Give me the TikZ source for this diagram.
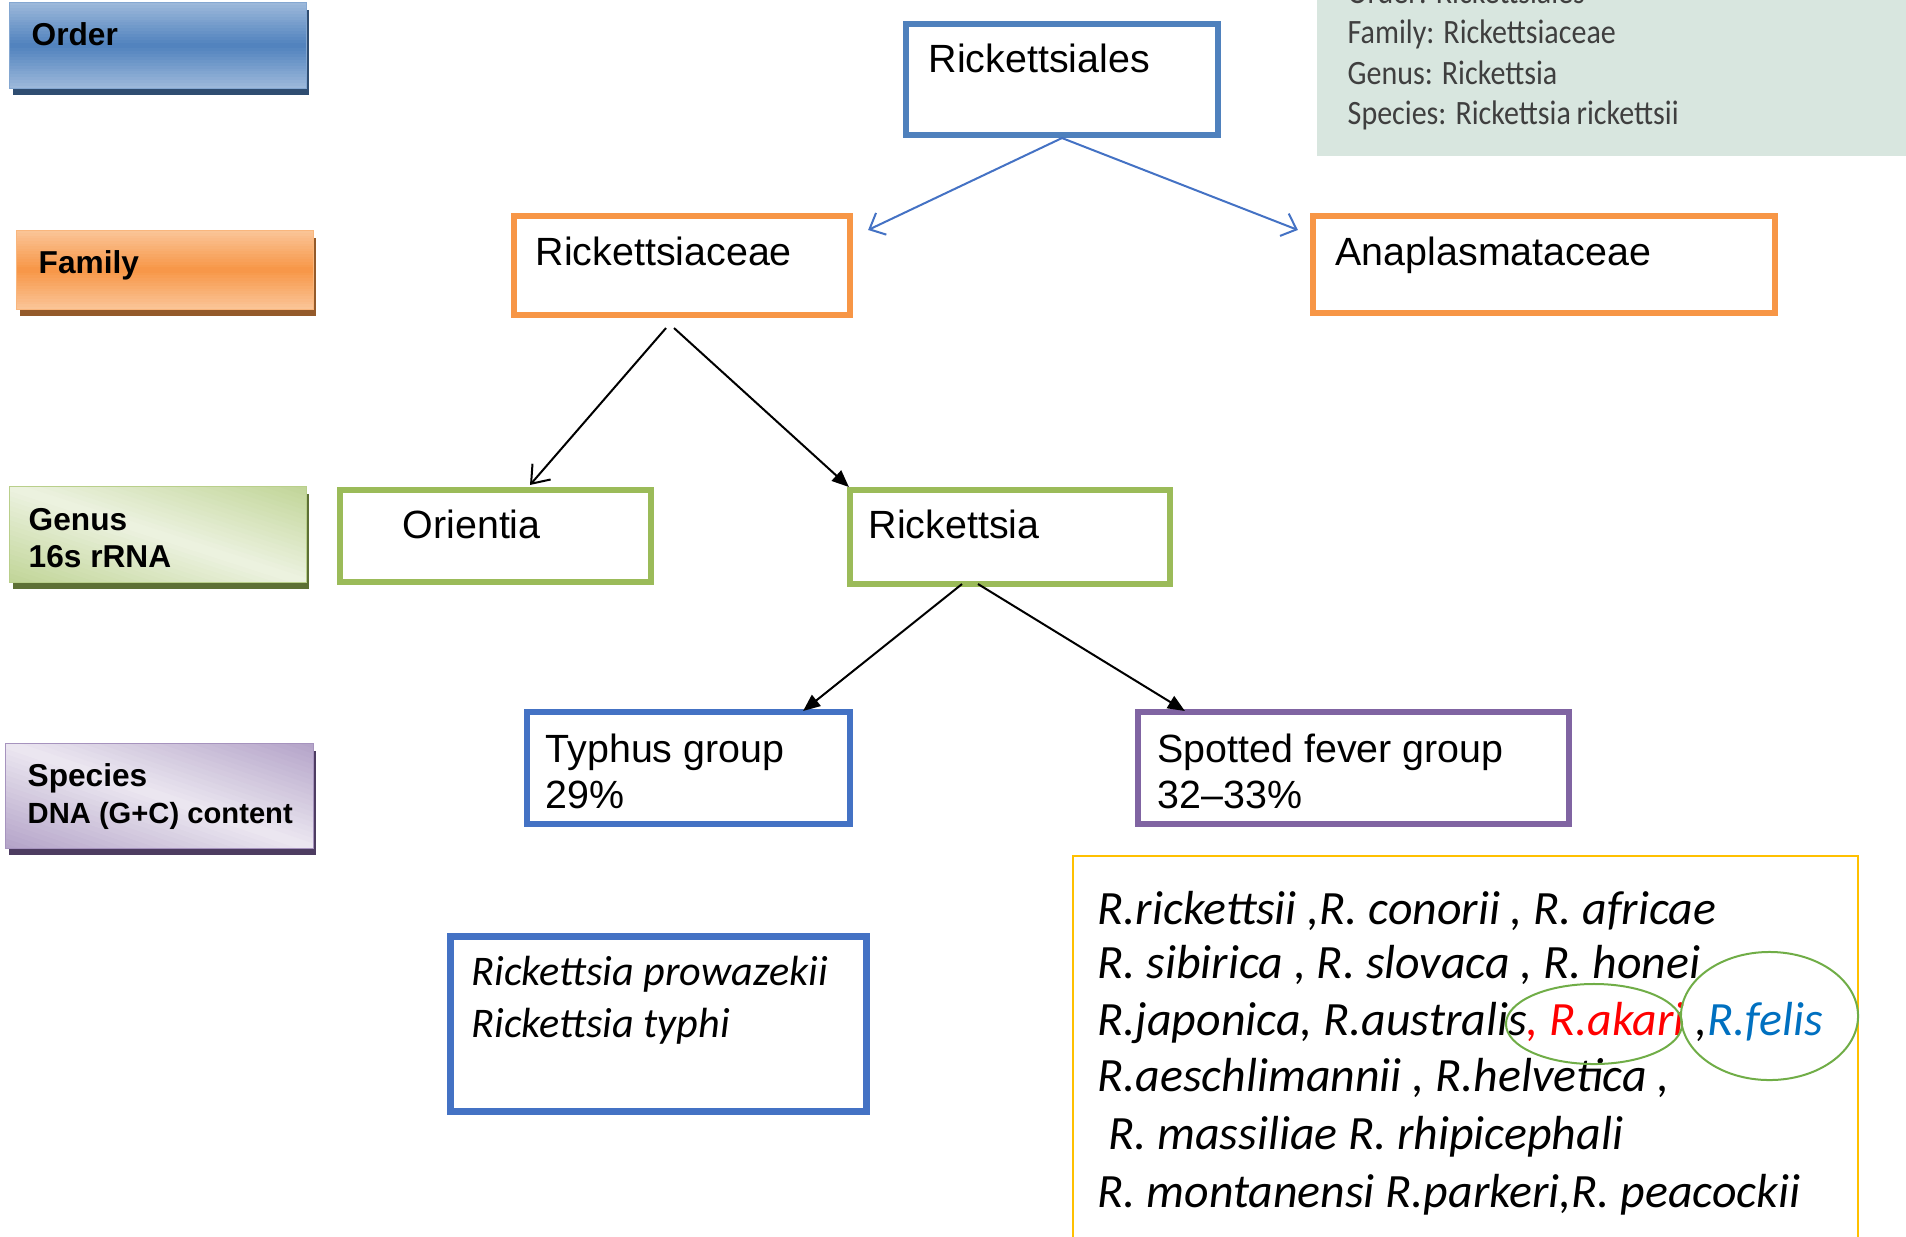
\documentclass[tikz,border=0pt]{standalone}
\usepackage{fontspec}
\setmainfont{Liberation Sans}
\newfontfamily\spfont{Carlito}
\newfontfamily\notefont[FakeStretch=0.88]{Carlito}
\usetikzlibrary{arrows.meta, calc, shadows}
\definecolor{ordBlue}{HTML}{4F81BD}
\definecolor{boxBlue}{HTML}{4472C4}
\definecolor{famOrange}{HTML}{F79646}
\definecolor{genGreen}{HTML}{9BBB59}
\definecolor{spPurple}{HTML}{8064A2}
\definecolor{listGold}{HTML}{FFC000}
\definecolor{ringGreen}{HTML}{70AD47}
\definecolor{akariRed}{HTML}{FF0000}
\definecolor{felisBlue}{HTML}{0070C0}
\definecolor{noteFill}{HTML}{D8E6DF}
\definecolor{noteText}{HTML}{3F3F3F}

% light - dark - light, top to bottom (node, colour)
\newcommand\vgrad[2]{%
  \begin{scope}
    \clip (#1.north west) rectangle (#1.south east);
    \foreach \k in {0,...,29} {
      \pgfmathsetmacro{\m}{100-45*abs(2*(\k+0.5)/30-1)}
      \pgfmathsetmacro{\ta}{\k/30}
      \pgfmathsetmacro{\tb}{(\k+1.5)/30}
      \fill[#2!\m!white] ($(#1.north west)!\ta!(#1.south west)$) rectangle ($(#1.north east)!\tb!(#1.south east)$);
    }
  \end{scope}
  \draw[#2!70!white, line width=0.01cm] (#1.north west) rectangle (#1.south east);}
% light band along the diagonal (node, colour, lightest mix)
\newcommand\dgrad[3]{%
  \begin{scope}
    \clip (#1.north west) rectangle (#1.south east);
    \foreach \k in {0,...,39} {
      \pgfmathsetmacro{\m}{#3+45*abs(2*(\k+0.5)/40-1)}
      \pgfmathsetmacro{\fa}{-1+2*\k/40}
      \pgfmathsetmacro{\fb}{-1+2*(\k+1.5)/40}
      \pgfmathsetmacro{\ga}{\fa+1}
      \pgfmathsetmacro{\gb}{\fb+1}
      \fill[#2!\m!white] ($(#1.north west)!\fa!(#1.north east)$) -- ($(#1.north west)!\fb!(#1.north east)$)
        -- ($(#1.south west)!\gb!(#1.south east)$) -- ($(#1.south west)!\ga!(#1.south east)$) -- cycle;
    }
  \end{scope}
  \draw[#2!70!white, line width=0.01cm] (#1.north west) rectangle (#1.south east);}

\begin{document}
\begin{tikzpicture}[x=0.01cm, y=-0.01cm,
    taxbox/.style={draw=#1, line width=0.06cm, inner sep=0pt},
    boxtxt/.style={anchor=base west, inner sep=0pt, font=\fontsize{11.2}{13}\selectfont},
    legbox/.style={fill=#1, inner sep=0pt,
      drop shadow={shadow xshift=0.03cm, shadow yshift=-0.07cm, fill=#1!60!black, opacity=1}},
    legtxt/.style={anchor=base west, inner sep=0pt, font=\fontsize{9}{11}\selectfont\bfseries},
    sptxt/.style={anchor=base west, inner sep=0pt, font=\fontsize{12}{14}\spfont\itshape},
    listtxt/.style={anchor=base west, inner sep=0pt, font=\fontsize{13.6}{16}\spfont\itshape},
    notetxt/.style={anchor=base west, inner sep=0pt, text=noteText, font=\fontsize{9.7}{11}\notefont},
    bluearr/.style={-{Straight Barb[length=0.13cm, width=0.24cm]}, boxBlue, line width=0.02cm},
    openarr/.style={-{Straight Barb[length=0.16cm, width=0.24cm]}, line width=0.02cm},
    fillarr/.style={-{Triangle[length=0.17cm, width=0.14cm]}, line width=0.02cm}]
  \useasboundingbox (0,0) rectangle (1906,1236);
  \clip (0,0) rectangle (1906,1236);

  % legend on the left
  \node[legbox=ordBlue, minimum width=2.95cm, minimum height=0.85cm] (lgord) at (158,45.5) {};
  \node[legbox=famOrange, minimum width=2.96cm, minimum height=0.78cm] (lgfam) at (165,270) {};
  \node[legbox=genGreen, minimum width=2.96cm, minimum height=0.95cm] (lggen) at (158,534.5) {};
  \node[legbox=spPurple, minimum width=3.07cm, minimum height=1.04cm] (lgsp) at (159.5,796) {};
  \vgrad{lgord}{ordBlue}
  \vgrad{lgfam}{famOrange}
  \dgrad{lggen}{genGreen}{18}
  \dgrad{lgsp}{spPurple}{15}
  \node[legtxt] (lgordtxt) at (31,45) {Order};
  \node[legtxt] (lgfamtxt) at (38,273) {Family};
  \node[legtxt] (lggentxt) at (28,530) {Genus};
  \node[legtxt] (lgrnatxt) at (28,567) {16s rRNA};
  \node[legtxt] (lgsptxt) at (27,786) {Species};
  \node[legtxt, font=\fontsize{8.3}{10}\selectfont\bfseries] (lgdnatxt) at (27,823) {DNA (G+C) content};

  % note in the corner
  \node[fill=noteFill, inner sep=0pt, minimum width=5.95cm, minimum height=2.1cm] (note) at (1615,51) {};
  \foreach \txt [count=\i] in {Order: Rickettsiales, Family: Rickettsiaceae, Genus: Rickettsia, Species: Rickettsia\,rickettsii}
    \node[notetxt] (note\i) at (1347,{3+40.5*(\i-1)}) {\txt};

  % taxa
  \node[taxbox=ordBlue, minimum width=3.12cm, minimum height=1.11cm] (ord) at (1062,79.5) {};
  \node[taxbox=famOrange, minimum width=3.36cm, minimum height=0.99cm] (fam) at (682,265.5) {};
  \node[taxbox=famOrange, minimum width=4.62cm, minimum height=0.97cm] (ana) at (1544,264.5) {};
  \node[taxbox=genGreen, minimum width=3.11cm, minimum height=0.92cm] (ori) at (495.5,536) {};
  \node[taxbox=genGreen, minimum width=3.20cm, minimum height=0.94cm] (gen) at (1010,537) {};
  \node[taxbox=boxBlue, minimum width=3.23cm, minimum height=1.12cm] (typ) at (688.5,768) {};
  \node[taxbox=spPurple, minimum width=4.31cm, minimum height=1.12cm] (spo) at (1353.5,768) {};
  \node[taxbox=boxBlue, line width=0.07cm, minimum width=4.16cm, minimum height=1.75cm] (tsp) at (658.5,1024) {};
  \node[draw=listGold, line width=0.02cm, inner sep=0pt, minimum width=7.84cm, minimum height=4.04cm] (sfl) at (1465.5,1058) {};

  \node[boxtxt] (ordtxt) at (928,72) {Rickettsiales};
  \node[boxtxt] (famtxt) at (535,265) {Rickettsiaceae};
  \node[boxtxt] (anatxt) at (1335,265) {Anaplasmataceae};
  \node[boxtxt] (oritxt) at (402,538) {Orientia};
  \node[boxtxt] (gentxt) at (868,538) {Rickettsia};
  \node[boxtxt] (typtxt) at (545,762) {Typhus group};
  \node[boxtxt] (typgc) at (545,808) {29\%};
  \node[boxtxt] (spotxt) at (1157,762) {Spotted fever group};
  \node[boxtxt] (spogc) at (1157,808) {32--33\%};
  \node[sptxt] (tsp1) at (471,985) {Rickettsia prowazekii};
  \node[sptxt] (tsp2) at (471,1037) {Rickettsia typhi};
  \foreach \txt/\yb [count=\i] in {{R.rickettsii ,R. conorii , R. africae}/924,
      {R. sibirica , R. slovaca , R. honei}/978,
      {R.japonica, R.australis{\color{akariRed}, R.akari} ,{\color{felisBlue}R.felis}}/1035,
      {R.aeschlimannii , R.helvetica ,}/1091,
      {\ R. massiliae R. rhipicephali}/1149,
      {R. montanensi R.parkeri,R. peacockii}/1207}
    \node[listtxt] (sl\i) at (1097,\yb) {\txt};
  \draw[ringGreen, line width=0.02cm] (1594,1024) ellipse [x radius=0.88cm, y radius=0.40cm];
  \draw[ringGreen, line width=0.02cm] (1769.5,1016) ellipse [x radius=0.885cm, y radius=0.64cm];

  % connectors
  \draw[bluearr] (ord.south) -- ($(fam.north east)+(15,17)$);
  \draw[bluearr] (ord.south) -- ($(ana.north west)+(-12,17)$);
  \draw[openarr] ($(fam.south)+(-16,10)$) -- ($(ori.north)+(34.5,-2)$);
  \draw[fillarr] ($(fam.south)+(-8,10)$) -- ($(gen.north west)+(2,0)$);
  \draw[fillarr] ($(gen.south)+(-48,-3)$) -- ($(typ.north east)+(-50,2)$);
  \draw[fillarr] ($(gen.south)+(-32,-3)$) -- ($(spo.north west)+(50,2)$);
\end{tikzpicture}
\end{document}
